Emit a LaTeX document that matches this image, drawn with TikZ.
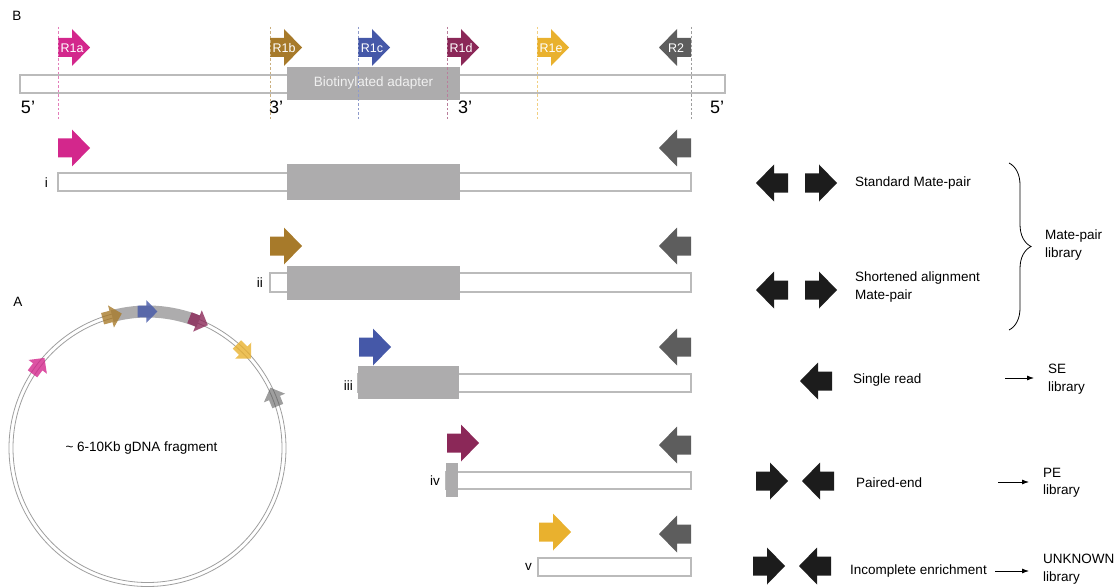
\documentclass[tikz,border=0pt]{standalone}
\usepackage{fontspec}
\setmainfont{Liberation Sans}
\usetikzlibrary{arrows.meta,decorations.pathreplacing}

\definecolor{cMag}{HTML}{D3278C}
\definecolor{cBrn}{HTML}{A77A2A}
\definecolor{cBlu}{HTML}{4558A8}
\definecolor{cMar}{HTML}{8B2858}
\definecolor{cYel}{HTML}{E9B12E}
\definecolor{cGry}{HTML}{5D5D5D}
\definecolor{cAdp}{HTML}{ADACAD}
\definecolor{cStr}{HTML}{BBBBBB}
\definecolor{cBlk}{HTML}{1C1C1C}

\tikzset{
  rarrow/.pic={\fill[pic actions] (-16,-9.5) -- (-2,-9.5) -- (-2,-18.5) -- (16,0) -- (-2,18.5) -- (-2,9.5) -- (-16,9.5) -- cycle;},
  larrow/.pic={\fill[pic actions] (16,-9.5) -- (2,-9.5) -- (2,-18.5) -- (-16,0) -- (2,18.5) -- (2,9.5) -- (16,9.5) -- cycle;},
  strand/.style={draw=cStr, line width=1.1pt, fill=white},
  adapter/.style={fill=cAdp},
  ring/.style={draw=black!38, line width=0.8pt},
  guide/.style={dash pattern=on 2.5pt off 2pt, line width=0.9pt},
  tag/.style={text=white, font=\fontsize{12.5}{14}\selectfont, inner sep=0pt},
  txt/.style={font=\fontsize{13.5}{17.5}\selectfont, inner sep=0pt, anchor=west, align=left},
  num/.style={font=\fontsize{13.5}{16}\selectfont, inner sep=0pt, anchor=east},
  endlbl/.style={font=\fontsize{18}{20}\selectfont, inner sep=0pt},
  conn/.style={line width=0.8pt, -{Latex[length=7pt,width=5pt]}, shorten >=14pt},
}

\begin{document}
\begin{tikzpicture}[x=1pt, y=1pt]
\useasboundingbox (0,0) rectangle (1115,-588);

% panel B: the construct
\node[num, anchor=center] (B) at (17,-16) {B};
\draw[strand] (20,-75) rectangle (725,-93);
\node[adapter, minimum width=173pt, minimum height=33pt, inner sep=0pt,
  text=white!94!black, font=\fontsize{13.5}{16}\selectfont] (adapt) at (373.5,-83.5) {Biotinylated adapter};
\node[endlbl] (e5a) at (28,-107) {5’};
\node[endlbl] (e3a) at (276,-107) {3’};
\node[endlbl] (e3b) at (465,-107) {3’};
\node[endlbl] (e5b) at (717,-107) {5’};

% primers
\pic[fill=cMag] at (74,-47.5) {rarrow};
\pic[fill=cBrn] at (286,-47.5) {rarrow};
\pic[fill=cBlu] at (374,-47.5) {rarrow};
\pic[fill=cMar] at (463,-47.5) {rarrow};
\pic[fill=cYel] at (553,-47.5) {rarrow};
\pic[fill=cGry] at (675,-47.5) {larrow};
\node[tag] (R1a) at (72,-48) {R1a};
\node[tag] (R1b) at (284,-48) {R1b};
\node[tag] (R1c) at (372,-48) {R1c};
\node[tag] (R1d) at (461,-48) {R1d};
\node[tag] (R1e) at (551,-48) {R1e};
\node[tag] (R2) at (676,-48) {R2};
\foreach \x/\c in {58/cMag,270/cBrn,358/cBlu,447/cMar,537/cYel,691/cGry}
  \draw[guide, \c!60] (\x,-27) -- (\x,-120);

% rows i - v
\node[num] (ri) at (48,-183) {i};
\draw[strand] (58,-173) rectangle (691,-191);
\fill[adapter] (287,-164) rectangle (460,-200);
\pic[fill=cMag] at (74,-148) {rarrow};

\node[num] (rii) at (263,-283) {ii};
\draw[strand] (270,-273) rectangle (691,-292);
\fill[adapter] (287,-266) rectangle (460,-300);
\pic[fill=cBrn] at (286,-246) {rarrow};

\node[num] (riii) at (353,-386) {iii};
\draw[strand] (358,-374) rectangle (691,-392);
\fill[adapter] (358,-366) rectangle (459,-399);
\pic[fill=cBlu] at (375,-347) {rarrow};

\node[num] (riv) at (440,-481) {iv};
\draw[strand] (446,-472) rectangle (691,-489);
\fill[adapter] (446,-463) rectangle (458,-497);
\pic[fill=cMar] at (463,-443) {rarrow};

\node[num] (rv) at (532,-567) {v};
\draw[strand] (538,-558) rectangle (691,-576);
\pic[fill=cYel] at (555,-532) {rarrow};

\foreach \y in {148,246,347,445,534}
  \pic[fill=cGry] at (675,-\y) {larrow};

% read orientations
\pic[fill=cBlk] at (772,-183) {larrow};
\pic[fill=cBlk] at (821,-183) {rarrow};
\node[txt] (std) at (855,-183) {Standard Mate-pair};
\pic[fill=cBlk] at (772,-290) {larrow};
\pic[fill=cBlk] at (821,-290) {rarrow};
\node[txt] (short) at (855,-287) {Shortened alignment\\Mate-pair};
\pic[fill=cBlk] at (816,-381) {larrow};
\node[txt] (single) at (853,-380) {Single read};
\pic[fill=cBlk] at (772,-481) {rarrow};
\pic[fill=cBlk] at (818,-481) {larrow};
\node[txt] (paired) at (856,-483) {Paired-end};
\pic[fill=cBlk] at (769,-566) {rarrow};
\pic[fill=cBlk] at (815,-566) {larrow};
\node[txt] (incomp) at (850,-571) {Incomplete enrichment};

% libraries
\draw[decorate, decoration={brace, amplitude=22pt}, line width=0.8pt] (1009,-163) -- (1009,-330);
\node[txt] (mplib) at (1045,-245) {Mate-pair\\library};
\node[txt] (selib) at (1048,-379) {SE\\library};
\node[txt] (pelib) at (1043,-483) {PE\\library};
\node[txt] (unlib) at (1043,-569) {UNKNOWN\\library};
\coordinate (seS) at (1005,-378);
\coordinate (peS) at (998,-482);
\coordinate (unS) at (995,-571);
\draw[conn] (seS) -- (seS -| selib.west);
\draw[conn] (peS) -- (peS -| pelib.west);
\draw[conn] (unS) -- (unS -| unlib.west);

% panel A: circularised fragment
\node[num, anchor=center] (A) at (18,-302) {A};
\coordinate (O) at (147.5,-448);
\draw[ring] (O) circle[radius=138.5];
\draw[ring] (O) circle[radius=134.5];
\draw[cAdp, line width=12pt] ([shift={(105:136.5)}]O) arc[start angle=105, end angle=68, radius=136.5];
\foreach \a/\r/\c in {143/53/cMag,105/15/cBrn,90/0/cBlu,68/-22/cMar,45/-45/cYel}
  \pic[fill=\c, fill opacity=0.8, rotate=\r, scale=0.62] at ([shift={(\a:136.5)}]O) {rarrow};
\pic[fill=cGry, fill opacity=0.6, rotate=-68, scale=0.62] at ([shift={(22:136.5)}]O) {larrow};
\node[txt, anchor=center] (frag) at (141.5,-448) {\textasciitilde{} 6-10Kb gDNA fragment};
\end{tikzpicture}
\end{document}
